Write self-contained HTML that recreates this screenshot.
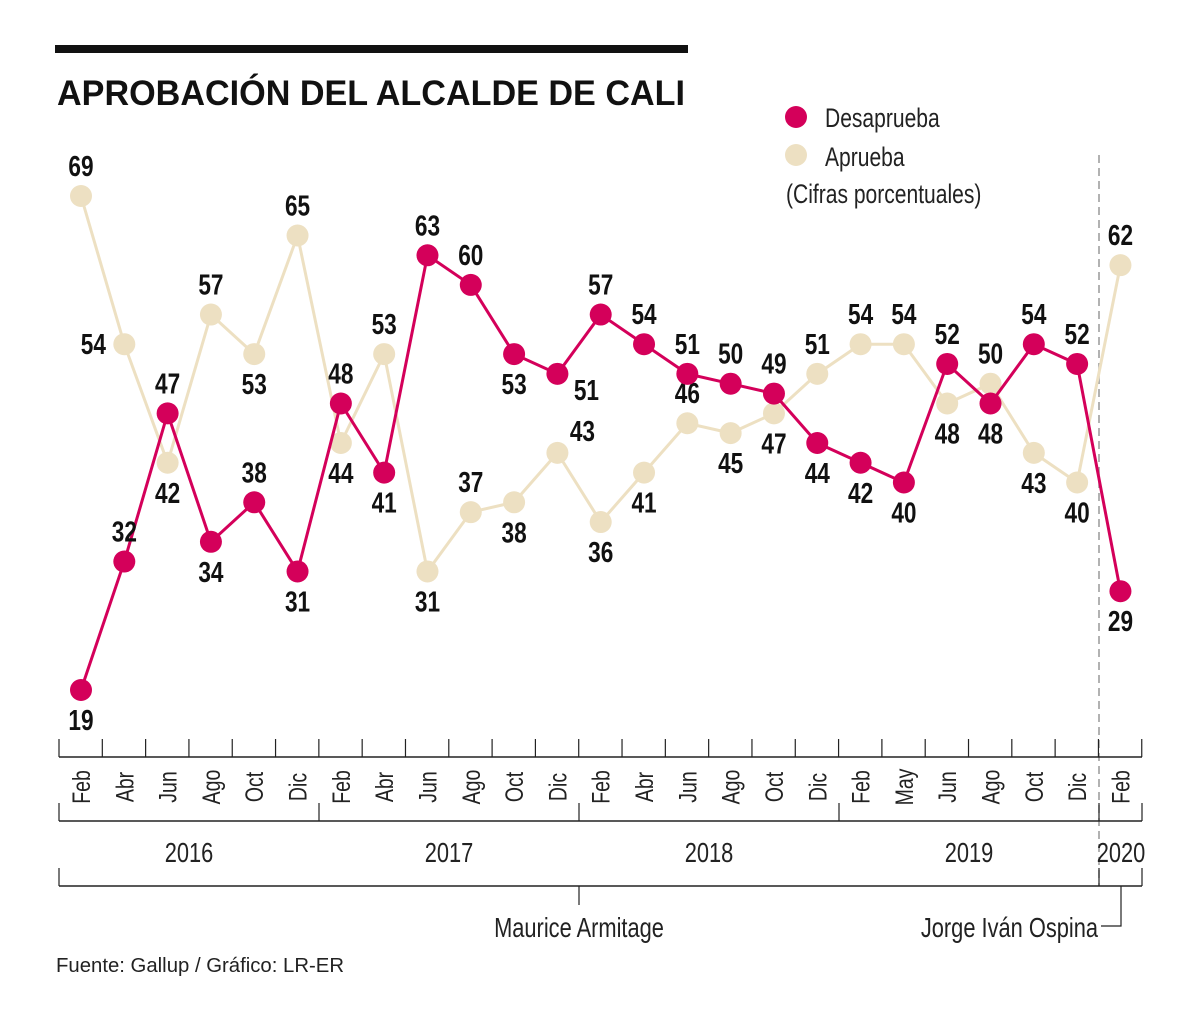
<!DOCTYPE html>
<html><head><meta charset="utf-8"><style>
body{margin:0;background:#fff;}
svg text{font-family:"Liberation Sans",sans-serif;}
</style></head><body>
<svg width="1200" height="1023" viewBox="0 0 1200 1023" xmlns="http://www.w3.org/2000/svg">
<rect x="55" y="45" width="633" height="8" fill="#111"/>
<text x="57" y="105" font-size="35" font-weight="bold" fill="#111" textLength="628" lengthAdjust="spacingAndGlyphs">APROBACIÓN DEL ALCALDE DE CALI</text>
<g>
<circle cx="796" cy="117" r="11" fill="#d4005a"/>
<text transform="translate(825,127) scale(0.78,1)" font-size="27" fill="#222">Desaprueba</text>
<circle cx="796" cy="155" r="11" fill="#ede0c2"/>
<text transform="translate(825,166) scale(0.78,1)" font-size="27" fill="#222">Aprueba</text>
<text transform="translate(786,203) scale(0.78,1)" font-size="27" fill="#222">(Cifras porcentuales)</text>
</g>
<line x1="1099" y1="155" x2="1099" y2="886" stroke="#999" stroke-width="1.5" stroke-dasharray="8,5"/>
<g id="axis"></g>
<g id="series"></g>
<text x="56" y="972" font-size="20" fill="#222" textLength="288" lengthAdjust="spacingAndGlyphs">Fuente: Gallup / Gráfico: LR-ER</text>
<script>
const months=["Feb","Abr","Jun","Ago","Oct","Dic","Feb","Abr","Jun","Ago","Oct","Dic","Feb","Abr","Jun","Ago","Oct","Dic","Feb","May","Jun","Ago","Oct","Dic","Feb"];
const desaprueba=[19,32,47,34,38,31,48,41,63,60,53,51,57,54,51,50,49,44,42,40,52,48,54,52,29];
const aprueba=[69,54,42,57,53,65,44,53,31,37,38,43,36,41,46,45,47,51,54,54,48,50,43,40,62];
const desLabelPos=["b","a","a","b","a","b","a","b","a","a","b","r","a","a","a","a","a","b","b","b","a","b","a","a","b"];
const apLabelPos=["a","l","b","a","b","a","b","a","b","a","b","u","b","b","a","b","b","a","a","a","b","a","b","b","a"];
const years=["2016","2017","2018","2019","2020"];
const NS="http://www.w3.org/2000/svg";
function xs(i){return 81+i*43.31;}
function ys(v){return 690-(v-19)*9.88;}
function mk(tag,attrs,parent){const e=document.createElementNS(NS,tag);for(const k in attrs)e.setAttribute(k,attrs[k]);parent.appendChild(e);return e;}
function txt(x,y,s,attrs,parent,rot){const tr=`translate(${x},${y})`+(rot?' rotate(-90)':'')+' scale(0.78,1)';const e=mk('text',Object.assign({x:0,y:0,transform:tr},attrs),parent);e.textContent=s;return e;}
const ax=document.getElementById('axis');
let l=mk('line',{x1:59,y1:757,x2:1142,y2:757,stroke:'#222','stroke-width':1.5},ax);


for(let i=0;i<=months.length;i++){
 const x=59+i*43.31;
 const t=mk('line',{x1:x,y1:739,x2:x,y2:757,stroke:'#222','stroke-width':1.2},ax);
 
 
}
months.forEach((m,i)=>{
 const t=txt(xs(i)+9,787,m,{'font-size':25,fill:'#222','text-anchor':'middle'},ax,true);
 
 
});
l=mk('line',{x1:59,y1:821,x2:1142,y2:821,stroke:'#222','stroke-width':1.5},ax);


[59,319,579,839,1099,1142].forEach(x=>{
 const t=mk('line',{x1:x,y1:803,x2:x,y2:821,stroke:'#222','stroke-width':1.2},ax);
 
 
});
const yearX=[189,449,709,969,1121];
years.forEach((y,i)=>{
 const t=txt(yearX[i],862,y,{'font-size':28,fill:'#222','text-anchor':'middle'},ax);
 
 
});
l=mk('line',{x1:59,y1:886,x2:1142,y2:886,stroke:'#222','stroke-width':1.5},ax);


[59,1099,1142].forEach(x=>{
 const t=mk('line',{x1:x,y1:868,x2:x,y2:886,stroke:'#222','stroke-width':1.2},ax);
 
 
});
l=mk('line',{x1:579,y1:886,x2:579,y2:905,stroke:'#222','stroke-width':1.2},ax);


l=mk('polyline',{points:'1121,886 1121,926 1101,926',fill:'none',stroke:'#222','stroke-width':1.2},ax);


let t=txt(579,937,'Maurice Armitage',{'font-size':28,fill:'#222','text-anchor':'middle'},ax);


t=txt(1098,937,'Jorge Iván Ospina',{'font-size':28,fill:'#222','text-anchor':'end'},ax);



const sg=document.getElementById('series');
function drawSeries(vals,color,name){
 const g=mk('g',{},sg);
 
 
 const pl=mk('polyline',{points:vals.map((v,i)=>xs(i)+','+ys(v)).join(' '),fill:'none',stroke:color,'stroke-width':3},g);
 
 
 return g;
}
function drawPoints(g,vals,pos,color,name){
 vals.forEach((v,i)=>{
  const c=mk('circle',{cx:xs(i),cy:ys(v),r:11,fill:color},g);
  
  
  let x=xs(i),y=ys(v);
  const p=pos[i];
  if(p==='a')y-=20;else if(p==='b')y+=40;else if(p==='l'){x-=31;y+=10;}
  else if(p==='r'){x+=29;y+=26;} else if(p==='u'){x+=25;y-=12;}
  const tx=txt(x,y,String(v),{'font-size':29,'font-weight':'bold',fill:'#111','text-anchor':'middle'},g);
  
  
 });
}
const ga=drawSeries(aprueba,'#ede0c2','aprueba');
const gd=drawSeries(desaprueba,'#d4005a','desaprueba');
drawPoints(ga,aprueba,apLabelPos,'#ede0c2','aprueba');
drawPoints(gd,desaprueba,desLabelPos,'#d4005a','desaprueba');
</script>
</svg>
</body></html>
